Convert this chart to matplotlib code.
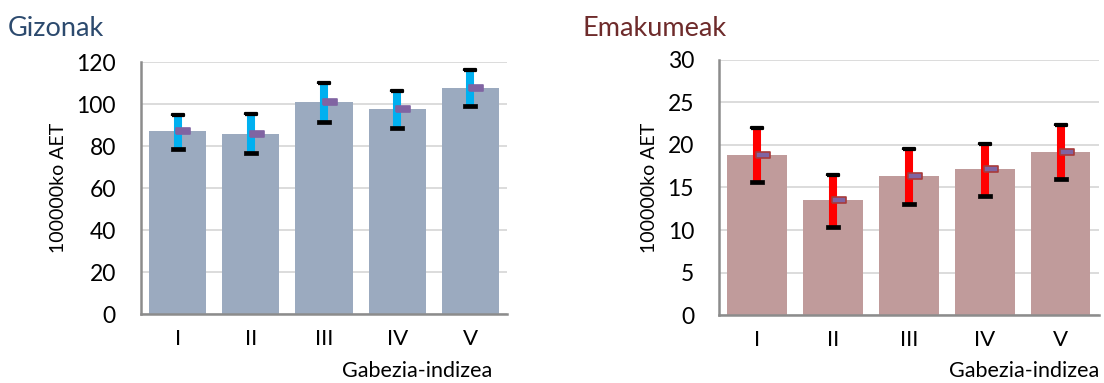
import matplotlib.pyplot as plt
import numpy as np

plt.rcParams['font.family'] = ['Lato', 'DejaVu Sans']

categories = ['I', 'II', 'III', 'IV', 'V']

# Gizonak: tasa, konfiantza-tartearen behe eta goi mugak
men_rate = [87.0, 85.9, 100.8, 97.6, 107.8]
men_low = [78.7, 76.5, 91.3, 88.6, 99.2]
men_high = [94.9, 95.1, 109.8, 106.3, 116.0]

# Emakumeak
women_rate = [18.8, 13.5, 16.3, 17.15, 19.2]
women_low = [15.65, 10.4, 13.1, 14.05, 16.05]
women_high = [21.95, 16.5, 19.5, 20.15, 22.3]


def rect(h):
    return [(-1, -h), (1, -h), (1, h), (-1, h), (-1, -h)]


def panel(ax, rate, low, high, bar_color, err_color, mark_edge, ymax, step):
    x = np.arange(len(categories))
    ax.bar(x, rate, width=0.78, color=bar_color, zorder=2)
    ax.vlines(x, low, high, color=err_color, lw=5.8, zorder=3)
    # goiko muga: marko beltza barruan lerro gorriarekin
    ax.plot(x, high, ls='none', marker=rect(0.17), ms=8.6, mfc='#A83232',
            mec='black', mew=1.6, zorder=4)
    ax.plot(x, low, ls='none', marker=rect(0.3), ms=9.5, mfc='black',
            mec='black', mew=0.5, zorder=4)
    ax.plot(x + 0.08, rate, ls='none', marker=rect(0.45), ms=9.6,
            mfc='#8064A2', mec=mark_edge, mew=1.2, zorder=5)

    ax.set_xlim(-0.5, len(categories) - 0.5)
    ax.set_ylim(0, ymax)
    ax.set_yticks(np.arange(0, ymax + 0.1, step))
    ax.set_xticks(x)
    ax.set_xticklabels(categories)
    ax.tick_params(axis='both', length=0)
    ax.tick_params(axis='y', labelsize=16.5, pad=18)
    ax.tick_params(axis='x', labelsize=16, pad=11)
    ax.grid(axis='y', color='#D9D9D9', lw=1.3, zorder=0)
    ax.set_axisbelow(True)
    for s in ['top', 'right']:
        ax.spines[s].set_visible(False)
    for s in ['left', 'bottom']:
        ax.spines[s].set_color('#8C8C8C')
        ax.spines[s].set_linewidth(1.8)
    ax.set_ylabel('100000ko AET', fontsize=14, labelpad=7)


fig = plt.figure(figsize=(11.04, 3.83), dpi=100)
ax1 = fig.add_axes([0.1277, 0.180, 0.3315, 0.658])
ax2 = fig.add_axes([0.6513, 0.177, 0.3440, 0.667])

panel(ax1, men_rate, men_low, men_high, '#9BAABF', '#00B0F0', '#8064A2', 120, 20)
panel(ax2, women_rate, women_low, women_high, '#C09B9B', '#FF0000', '#A83A3A', 30, 5)

ax1.text(0.961, -0.225, 'Gabezia-indizea', transform=ax1.transAxes,
         ha='right', va='center', fontsize=15.5)
ax2.text(1.0, -0.22, 'Gabezia-indizea', transform=ax2.transAxes,
         ha='right', va='center', fontsize=15.5)

fig.text(0.007, 0.925, 'Gizonak', color='#2C4A6E', fontsize=19.5, va='center')
fig.text(0.528, 0.925, 'Emakumeak', color='#6E2B2B', fontsize=19.5, va='center')

fig.savefig('out.png', dpi=100)
